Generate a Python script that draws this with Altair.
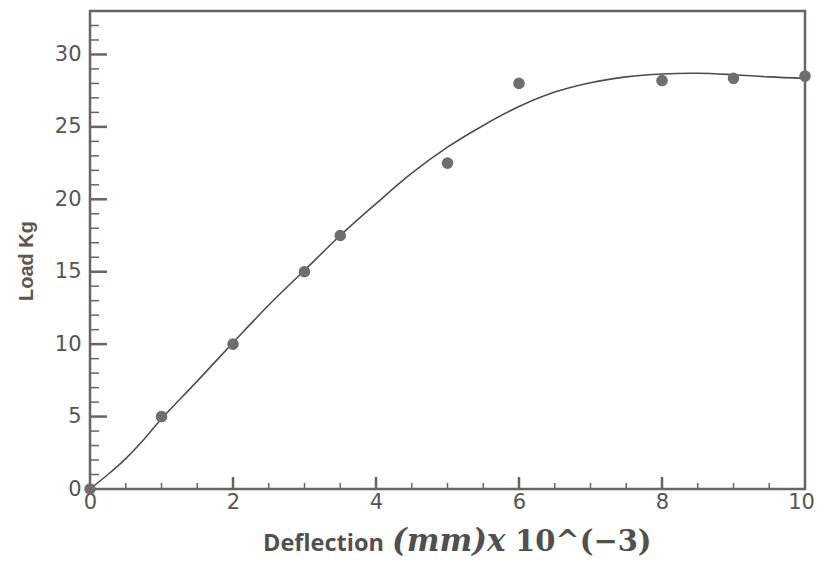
import altair as alt
import pandas as pd

# measured data points
pt_x = [0, 1, 2, 3, 3.5, 5, 6, 8, 9, 10]
pt_y = [0, 5, 10, 15, 17.5, 22.5, 28.0, 28.2, 28.35, 28.5]

# fitted curve
curve_x = [0, 0.25, 0.5, 0.75, 1, 1.5, 2, 2.5, 3, 3.5, 4, 4.5, 5, 5.5, 6, 6.5, 7, 7.5, 8, 8.5, 9, 9.5, 10]
curve_y = [0, 1.0, 2.1, 3.4, 4.85, 7.45, 10.1, 12.7, 15.1, 17.5, 19.7, 21.8, 23.6, 25.1, 26.4, 27.4,
           28.05, 28.45, 28.65, 28.7, 28.6, 28.45, 28.35]

# axis ticks / labels
x_labels = [0, 2, 4, 6, 8, 10]
y_labels = [0, 5, 10, 15, 20, 25, 30]
x_major = [2, 4, 6, 8]
x_minor = [0.5, 1, 1.5, 2.5, 3, 3.5, 4.5, 5, 5.5, 6.5, 7, 7.5, 8.5, 9, 9.5]
y_major = [5, 10, 15, 20, 25, 30]
y_minor = [1, 2, 3, 4, 6, 7, 8, 9, 11, 12, 13, 14, 16, 17, 18, 19, 21, 22, 23, 24, 26, 27, 28, 29, 31, 32]

W, H = 715, 478
AXC = "#6b6560"
LBL = "#555555"

xs = alt.Scale(domain=[0, 10], nice=False)
ys = alt.Scale(domain=[0, 33], nice=False)

pts = pd.DataFrame({"x": pt_x, "y": pt_y})
crv = pd.DataFrame({"x": curve_x, "y": curve_y})

line = alt.Chart(crv).mark_line(interpolate="catmull-rom", color="#4d4d4d", strokeWidth=1.6).encode(
    x=alt.X("x:Q", scale=xs, axis=alt.Axis(
        values=x_labels, format="d", ticks=False, domain=False, grid=False,
        labelFontSize=21, labelColor=LBL, labelFont="DejaVu Sans",
        labelFlush=False, labelPadding=2, title=None,
        labelOffset={"condition": {"test": "datum.value == 10", "value": -4}, "value": 0})),
    y=alt.Y("y:Q", scale=ys, axis=alt.Axis(
        values=y_labels, format="d", ticks=False, domain=False, grid=False,
        labelFontSize=21, labelColor=LBL, labelFont="DejaVu Sans",
        labelFlush=False, labelPadding=9, title=None)),
)

points = alt.Chart(pts).mark_circle(size=135, color="#6e6e6e", opacity=1).encode(
    x=alt.X("x:Q", scale=xs), y=alt.Y("y:Q", scale=ys)
)

def xticks(vals, length, width):
    return alt.Chart(pd.DataFrame({"v": vals})).mark_rule(color=AXC, strokeWidth=width).encode(
        x=alt.X("v:Q", scale=xs), y=alt.value(H), y2=alt.value(H - length))

def yticks(vals, length, width):
    return alt.Chart(pd.DataFrame({"v": vals})).mark_rule(color=AXC, strokeWidth=width).encode(
        y=alt.Y("v:Q", scale=ys), x=alt.value(0), x2=alt.value(length))

ylab = alt.Chart(pd.DataFrame({"t": ["Load  Kg"]})).mark_text(
    angle=270, align="center", baseline="alphabetic", fontSize=20, fontWeight="bold",
    font="Liberation Sans", color="#5e5650").encode(
    text="t:N", x=alt.value(-57), y=alt.value(250))

xlab1 = alt.Chart(pd.DataFrame({"t": ["Deflection"]})).mark_text(
    align="left", baseline="alphabetic", fontSize=23.5, fontWeight="bold",
    font="Open Sans", color="#505050").encode(
    text="t:N", x=alt.value(173), y=alt.value(540))

xlab2 = alt.Chart(pd.DataFrame({"t": ["(mm)x"]})).mark_text(
    align="left", baseline="alphabetic", fontSize=31, fontWeight="bold", fontStyle="italic",
    font="DejaVu Serif", color="#505050").encode(
    text="t:N", x=alt.value(302), y=alt.value(540))

xlab3 = alt.Chart(pd.DataFrame({"t": ["10^(\u22123)"]})).mark_text(
    align="left", baseline="alphabetic", fontSize=29, fontWeight="bold",
    font="DejaVu Serif", color="#505050").encode(
    text="t:N", x=alt.value(425), y=alt.value(540))

chart = alt.layer(
    line, points,
    xticks(x_major, 12, 2.5), xticks(x_minor, 6, 1.5),
    yticks(y_major, 17, 2.5), yticks(y_minor, 9, 1.5),
    ylab, xlab1, xlab2, xlab3,
).properties(
    width=W, height=H,
    autosize=alt.AutoSizeParams(type="none"),
    padding={"left": 82, "top": 3, "right": 11, "bottom": 72},
    background="white",
).configure_view(stroke=AXC, strokeWidth=2.5)

chart.save("out.html", embed_options={"renderer": "svg", "actions": False})
